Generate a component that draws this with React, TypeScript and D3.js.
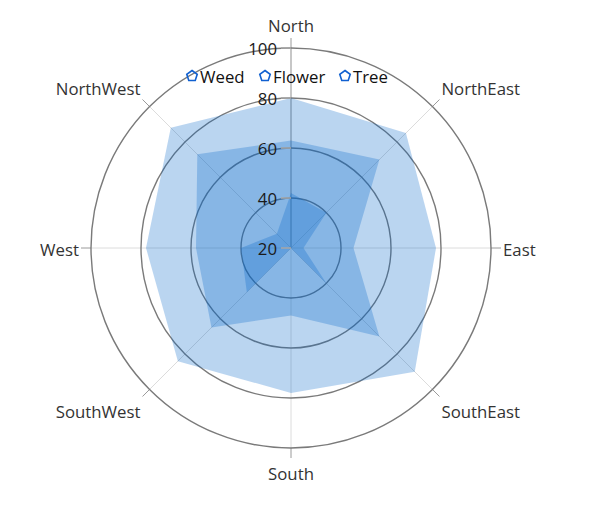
import { useEffect, useRef } from "react"
import * as d3 from "d3"

const directions = ["North", "NorthEast", "East", "SouthEast", "South", "SouthWest", "West", "NorthWest"]
const seriesNames = ["Weed", "Flower", "Tree"]
const weed = [42, 40, 25, 40, 20, 45, 40, 28]
const flower = [63, 70, 45, 70, 47, 65, 58, 73]
const tree = [80, 85, 78, 90, 78, 84, 78, 88]
const ticks = [20, 40, 60, 80, 100]

export default function App() {
  const svgRef = useRef<SVGSVGElement>(null)

  useEffect(() => {
    if (!svgRef.current) return
    const width = 600
    const height = 507
    const cx = 291
    const cy = 248
    const font = "'Segoe UI', 'Open Sans', sans-serif"
    const fontSize = 16.8
    const color = "#0064c8"

    const svg = d3.select(svgRef.current).attr("width", width).attr("height", height)
    svg.selectAll("*").remove()

    const r = d3.scaleLinear().domain([20, 100]).range([0, 200])
    const angle = d3.scalePoint<string>().domain(directions).range([0, 2 * Math.PI * (7 / 8)])
    const outer = r(100)

    const g = svg.append("g").attr("transform", `translate(${cx},${cy})`)

    // spokes
    directions.forEach((d) => {
      const a = angle(d)!
      const sx = Math.sin(a)
      const sy = -Math.cos(a)
      if (d !== "North") {
        g.append("line")
          .attr("x1", 0).attr("y1", 0)
          .attr("x2", sx * outer).attr("y2", sy * outer)
          .attr("stroke", "#dcdcdc").attr("stroke-width", 1)
      }
      g.append("line")
        .attr("x1", sx * outer).attr("y1", sy * outer)
        .attr("x2", sx * (outer + 10)).attr("y2", sy * (outer + 10))
        .attr("stroke", "#9a9a9a").attr("stroke-width", 1)
    })

    // value axis on North
    g.append("line")
      .attr("x1", 0).attr("y1", 0).attr("x2", 0).attr("y2", -outer)
      .attr("stroke", "#b4b4b4").attr("stroke-width", 1.5)

    // circles
    ticks.slice(1).forEach((t) => {
      g.append("circle")
        .attr("r", r(t))
        .attr("fill", "none")
        .attr("stroke", "#7a7a7a")
        .attr("stroke-width", 1.4)
    })

    // areas
    const line = d3.lineRadial<number>()
      .angle((_, i) => angle(directions[i])!)
      .radius((v) => r(v))
      .curve(d3.curveLinearClosed)

    ;[weed, flower, tree].forEach((vals) => {
      g.append("path")
        .attr("d", line(vals))
        .attr("fill", color)
        .attr("fill-opacity", 0.27)
    })

    // value ticks & labels
    ticks.forEach((t) => {
      g.append("line")
        .attr("x1", -10).attr("x2", 0)
        .attr("y1", -r(t)).attr("y2", -r(t))
        .attr("stroke", "#a8a8a8").attr("stroke-width", 1.5)
      g.append("text")
        .attr("x", -14).attr("y", -r(t))
        .attr("text-anchor", "end")
        .attr("dominant-baseline", "central")
        .attr("font-family", font).attr("font-size", fontSize)
        .attr("fill", "#1a1a1a")
        .text(t)
    })

    // direction labels
    directions.forEach((d) => {
      const a = angle(d)!
      const sx = Math.sin(a)
      const sy = -Math.cos(a)
      const anchor = Math.abs(sx) < 0.01 ? "middle" : sx > 0 ? "start" : "end"
      const dy = sy > 0.1 ? 15 : sy < -0.1 ? -13 * Math.pow(-sy, 0.6) : 1
      g.append("text")
        .attr("x", sx * (outer + 10) + (Math.abs(sx) < 0.01 ? 0 : sx > 0 ? 2 : -2))
        .attr("y", sy * (outer + 10) + dy)
        .attr("text-anchor", anchor)
        .attr("dominant-baseline", "central")
        .attr("font-family", font).attr("font-size", fontSize)
        .attr("fill", "#333")
        .text(d)
    })

    // legend
    const legendX = [192, 265, 345]
    const pentagon = d3.range(5).map((i) => {
      const a = (i / 5) * 2 * Math.PI
      return [Math.sin(a) * 5.5, -Math.cos(a) * 5.5] as [number, number]
    })
    seriesNames.forEach((name, i) => {
      const lg = svg.append("g").attr("transform", `translate(${legendX[i]},76)`)
      lg.append("path")
        .attr("d", d3.line()(pentagon) + "Z")
        .attr("fill", "none")
        .attr("stroke", "#1060d0")
        .attr("stroke-width", 1.6)
      lg.append("text")
        .attr("x", 8).attr("y", 0)
        .attr("dominant-baseline", "central")
        .attr("font-family", font).attr("font-size", fontSize)
        .attr("fill", "#111")
        .text(name)
    })
  }, [])

  return <svg ref={svgRef} style={{ position: "absolute", left: 0, top: 0 }} />
}
